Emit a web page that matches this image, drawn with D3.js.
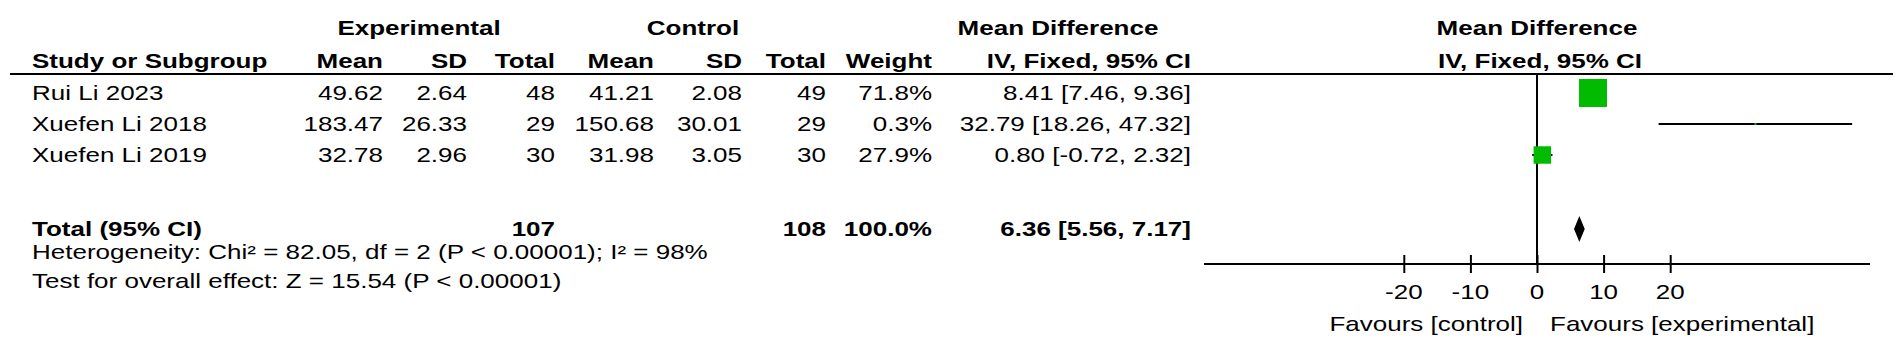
<!DOCTYPE html>
<html>
<head>
<meta charset="utf-8">
<script src="https://cdn.jsdelivr.net/npm/d3@7"></script>
<style>
  html, body { margin: 0; padding: 0; background: #fff; }
  text { font-family: "Liberation Sans", Arial, sans-serif; font-size: 20px; fill: #000; }
</style>
</head>
<body>
<svg id="chart"></svg>
<script>
// Forest plot: mean difference, IV fixed effect

const studies = ["Rui Li 2023", "Xuefen Li 2018", "Xuefen Li 2019"]
const expMean = [49.62, 183.47, 32.78]
const expSD = [2.64, 26.33, 2.96]
const expTotal = [48, 29, 30]
const ctrlMean = [41.21, 150.68, 31.98]
const ctrlSD = [2.08, 30.01, 3.05]
const ctrlTotal = [49, 29, 30]
const weights = [71.8, 0.3, 27.9]
const meanDiff = [8.41, 32.79, 0.80]
const ciLow = [7.46, 18.26, -0.72]
const ciHigh = [9.36, 47.32, 2.32]

const pooled = { expTotal: 107, ctrlTotal: 108, weight: 100.0, md: 6.36, lo: 5.56, hi: 7.17 }
const heterogeneity = "Heterogeneity: Chi² = 82.05, df = 2 (P < 0.00001); I² = 98%"
const overallEffect = "Test for overall effect: Z = 15.54 (P < 0.00001)"

const axisTicks = [-20, -10, 0, 10, 20]
const axisDomain = [-50, 50]
const favours = ["Favours [control]", "Favours [experimental]"]

const width = 1902
const height = 356
const SX = 1.3 // the source picture is stretched sideways

const svg = d3.select("#chart")
  .attr("width", width)
  .attr("height", height)

// plain hyphen for negatives, like the original
const locale = d3.formatLocale({ decimal: ".", thousands: ",", grouping: [3], currency: ["", ""], minus: "-" })
const f2 = locale.format(".2f")
const f1 = locale.format(".1f")

function label(x, y, str, anchor = "end", bold = false) {
  svg.append("text")
    .attr("transform", `translate(${x},${y}) scale(${SX},1)`)
    .attr("text-anchor", anchor)
    .attr("font-weight", bold ? "bold" : null)
    .text(str)
}

// column right edges
const col = { study: 32, eMean: 383, eSD: 467, eTot: 555, cMean: 654, cSD: 742, cTot: 826, weight: 932, ci: 1191 }

const rowY = d3.scalePoint()
  .domain(studies)
  .range([93, 155])
const totalY = 229

const x = d3.scaleLinear()
  .domain(axisDomain)
  .range([1204, 1870])
const axisY = 264

// header
label(419, 35, "Experimental", "middle", true)
label(693, 35, "Control", "middle", true)
label(1058, 35, "Mean Difference", "middle", true)
label(x(0), 35, "Mean Difference", "middle", true)

label(col.study, 68, "Study or Subgroup", "start", true)
label(col.eMean, 68, "Mean", "end", true)
label(col.eSD, 68, "SD", "end", true)
label(col.eTot, 68, "Total", "end", true)
label(col.cMean, 68, "Mean", "end", true)
label(col.cSD, 68, "SD", "end", true)
label(col.cTot, 68, "Total", "end", true)
label(col.weight, 68, "Weight", "end", true)
label(col.ci, 68, "IV, Fixed, 95% CI", "end", true)
label(x(0) + 3, 68, "IV, Fixed, 95% CI", "middle", true)

svg.append("line")
  .attr("x1", 10).attr("x2", 1893)
  .attr("y1", 74).attr("y2", 74)
  .attr("stroke", "#000").attr("stroke-width", 2)

// study rows
studies.forEach((s, i) => {
  const y = rowY(s) + 7
  label(col.study, y, s, "start")
  label(col.eMean, y, f2(expMean[i]))
  label(col.eSD, y, f2(expSD[i]))
  label(col.eTot, y, expTotal[i])
  label(col.cMean, y, f2(ctrlMean[i]))
  label(col.cSD, y, f2(ctrlSD[i]))
  label(col.cTot, y, ctrlTotal[i])
  label(col.weight, y, f1(weights[i]) + "%")
  label(col.ci, y, `${f2(meanDiff[i])} [${f2(ciLow[i])}, ${f2(ciHigh[i])}]`)
})

// total row
label(col.study, totalY + 7, "Total (95% CI)", "start", true)
label(col.eTot, totalY + 7, pooled.expTotal, "end", true)
label(col.cTot, totalY + 7, pooled.ctrlTotal, "end", true)
label(col.weight, totalY + 7, f1(pooled.weight) + "%", "end", true)
label(col.ci, totalY + 7, `${f2(pooled.md)} [${f2(pooled.lo)}, ${f2(pooled.hi)}]`, "end", true)

label(col.study, 259, heterogeneity, "start")
label(col.study, 288, overallEffect, "start")

// plot: line of no effect
svg.append("line")
  .attr("x1", x(0)).attr("x2", x(0))
  .attr("y1", 74).attr("y2", axisY)
  .attr("stroke", "#000").attr("stroke-width", 2)

// confidence intervals
const rows = studies.map((s, i) => ({ s, md: meanDiff[i], lo: ciLow[i], hi: ciHigh[i], w: weights[i] }))
const maxW = d3.max(weights)
const size = d3.scaleSqrt().domain([0, maxW]).range([0, 28])

svg.append("g")
  .selectAll("line")
  .data(rows)
  .join("line")
  .attr("x1", d => x(d.lo))
  .attr("x2", d => x(d.hi))
  .attr("y1", d => rowY(d.s))
  .attr("y2", d => rowY(d.s))
  .attr("stroke", "#000")
  .attr("stroke-width", 2)

svg.append("g")
  .selectAll("rect")
  .data(rows)
  .join("rect")
  .attr("x", d => x(d.md) - size(d.w) / 2)
  .attr("y", d => rowY(d.s) - size(d.w) / 2)
  .attr("width", d => Math.max(size(d.w), 2))
  .attr("height", d => Math.max(size(d.w), 2))
  .attr("fill", "#00bb00")

// pooled diamond
const dh = 13
svg.append("path")
  .attr("d", `M${x(pooled.lo)},${totalY} L${x(pooled.md)},${totalY - dh} L${x(pooled.hi)},${totalY} L${x(pooled.md)},${totalY + dh} Z`)
  .attr("fill", "#000")

// axis
svg.append("g")
  .attr("transform", `translate(0,${axisY})`)
  .call(d3.axisBottom(x).tickValues(axisTicks).tickSize(0).tickPadding(0).tickFormat(d => ""))
  .call(g => g.select(".domain").attr("stroke-width", 2).attr("d", `M${x.range()[0]},0H${x.range()[1]}`))
  .call(g => g.selectAll(".tick line")
    .attr("y1", -9).attr("y2", 9)
    .attr("stroke-width", 2))

axisTicks.forEach(t => label(x(t), 299, t, "middle"))

label(x(0) - 14, 331, favours[0], "end")
label(x(0) + 13, 331, favours[1], "start")
</script>
</body>
</html>
